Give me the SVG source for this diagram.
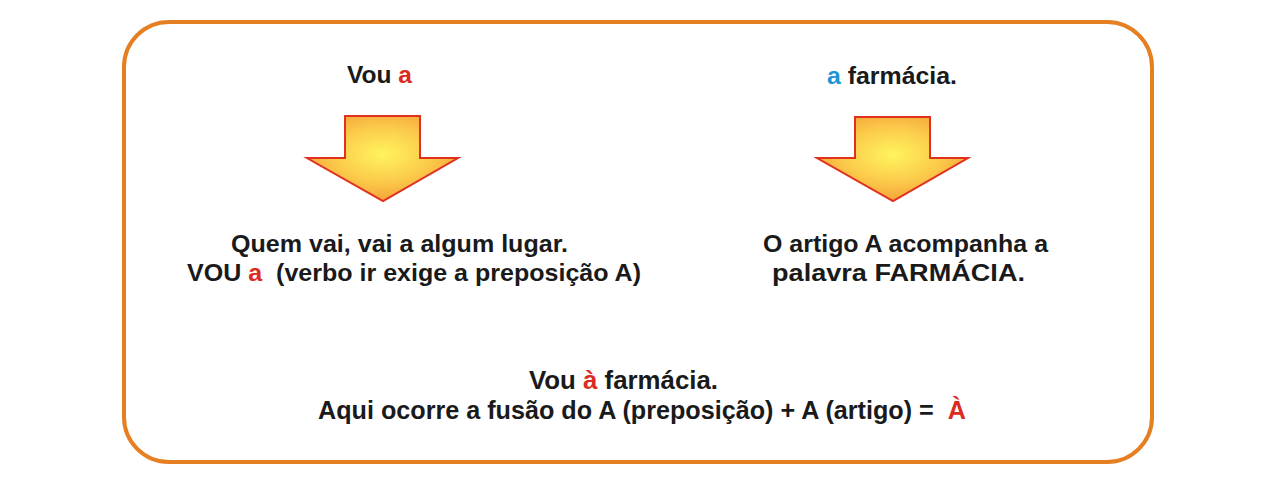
<svg xmlns="http://www.w3.org/2000/svg" width="1280" height="480" viewBox="0 0 1280 480">
<defs>
<radialGradient id="arrowFill" cx="0.5" cy="0.45" r="0.6">
<stop offset="0" stop-color="#FFF45E"/>
<stop offset="0.55" stop-color="#FBC94A"/>
<stop offset="1" stop-color="#F39A35"/>
</radialGradient>
<style>
.t{font-family:"Liberation Sans",Arial,sans-serif;font-weight:bold;fill:#1a1a1a;font-size:24px}
.b{font-family:"Liberation Sans",Arial,sans-serif;font-weight:bold;fill:#1a1a1a;font-size:25px}
.red{fill:#DC2A22}
.blue{fill:#1E96D5}
.arrow{fill:url(#arrowFill);stroke:#E0301E;stroke-width:2;stroke-linejoin:miter}
</style>
</defs>
<rect x="0" y="0" width="1280" height="480" fill="#ffffff"/>
<rect id="frame" x="124" y="22" width="1028" height="440" rx="45" ry="45" fill="none" stroke="#E57F22" stroke-width="4"/>
<g id="left-top"><text class="t" x="347" y="83" textLength="65" lengthAdjust="spacingAndGlyphs">Vou <tspan class="red">a</tspan></text></g>
<g id="right-top"><text class="t" x="827" y="84" textLength="130" lengthAdjust="spacingAndGlyphs"><tspan class="blue">a</tspan> farmácia.</text></g>
<g id="connectors">
<path id="arrow-left" class="arrow" d="M345,116 H420 V158 H458 L383,201 L307,158 H345 Z"/>
<path id="arrow-right" class="arrow" d="M855,117 H930 V158 H968 L893,201 L817,158 H855 Z"/>
</g>
<g id="left-bottom">
<text class="t" x="231" y="252" textLength="337" lengthAdjust="spacingAndGlyphs">Quem vai, vai a algum lugar.</text>
<text class="t" x="187" y="281" textLength="454" lengthAdjust="spacingAndGlyphs" xml:space="preserve">VOU <tspan class="red">a</tspan>  (verbo ir exige a preposição A)</text>
</g>
<g id="right-bottom">
<text class="t" x="763" y="252" textLength="285" lengthAdjust="spacingAndGlyphs">O artigo A acompanha a</text>
<text class="t" x="772" y="281" textLength="253" lengthAdjust="spacingAndGlyphs">palavra FARMÁCIA.</text>
</g>
<g id="bottom">
<text class="b" x="529" y="389" textLength="189" lengthAdjust="spacingAndGlyphs">Vou <tspan class="red">à</tspan> farmácia.</text>
<text class="b" x="318" y="419" textLength="648" lengthAdjust="spacingAndGlyphs" xml:space="preserve">Aqui ocorre a fusão do A (preposição) + A (artigo) =  <tspan class="red">À</tspan></text>
</g>
</svg>
